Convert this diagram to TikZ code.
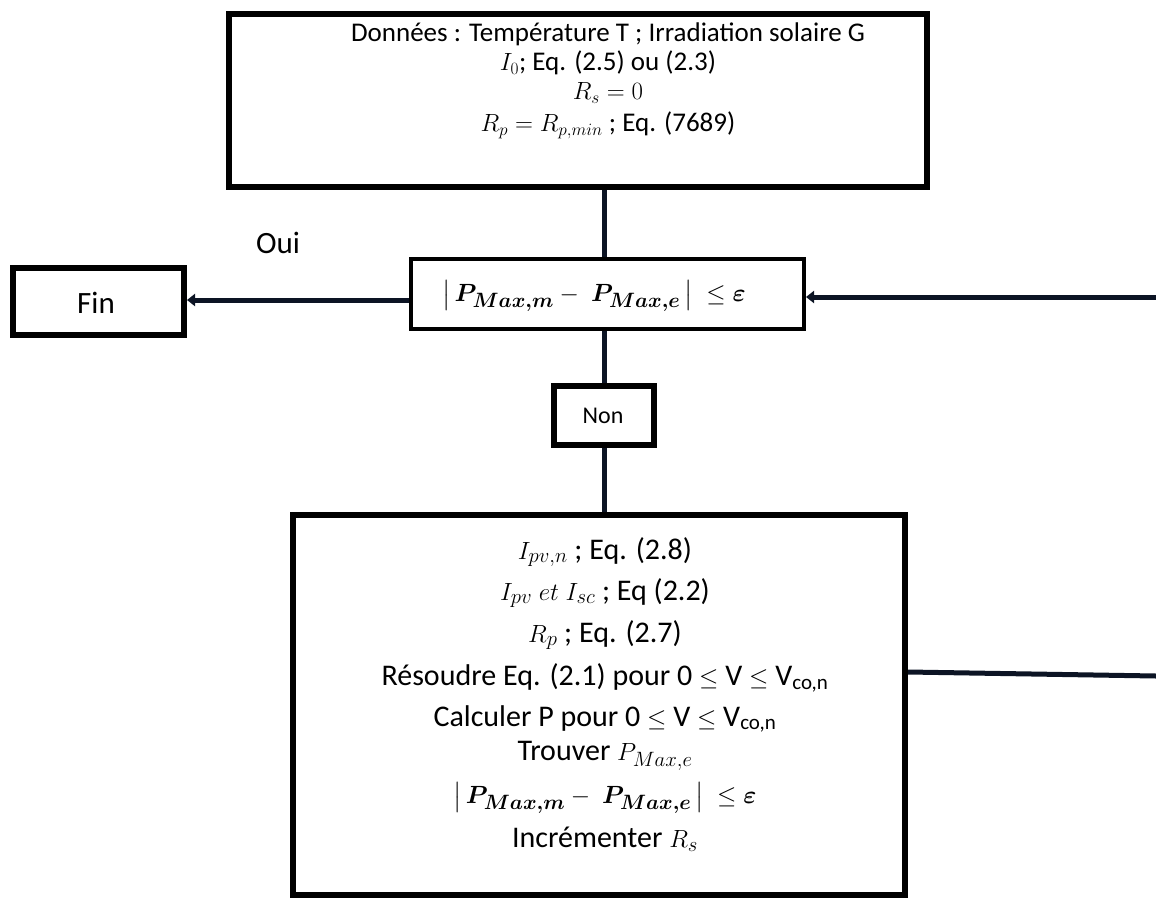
\documentclass[tikz,border=0pt]{standalone}
\usepackage{fontspec}
\setmainfont{Carlito}
\usepackage{amsmath,bm}
\usetikzlibrary{arrows.meta}
\definecolor{ink}{RGB}{12,20,36}
\tikzset{
  frame/.style={draw=black,line width=6pt,inner sep=0pt,fill=white},
  link/.style={draw=ink,line width=5pt},
  arr/.style={link,-{Triangle[length=8pt,width=12pt]}},
  txt/.style={inner sep=0pt,anchor=center},
}
\newcommand{\fs}[1]{\fontsize{#1}{#1}\selectfont}
\newcommand{\crit}{$\bigl|\,\bm{P_{Max,m}} -\ \bm{P_{Max,e}}\,\bigr|\ \leq \bm{\varepsilon}$}
\begin{document}
\begin{tikzpicture}[x=1pt,y=-1pt]
\useasboundingbox (0,0) rectangle (1156,900);

% boxes
\node[frame,minimum width=698pt,minimum height=173pt] (top) at (578,100.5) {};
\node[frame,minimum width=393pt,minimum height=70pt,line width=4pt] (dec) at (607.5,294) {};
\node[frame,minimum width=171pt,minimum height=67pt] (fin) at (98.5,301.5) {};
\node[frame,minimum width=100pt,minimum height=59pt] (non) at (604,415.5) {};
\node[frame,minimum width=612pt,minimum height=380pt] (bot) at (599,705) {};

% texts of the first box
\node[txt,font=\fs{27}] (t1) at (608,34) {Données : Température T ; Irradiation solaire G};
\node[txt,font=\fs{27}] (t2) at (608,63) {$I_0$; Eq. (2.5) ou (2.3)};
\node[txt,font=\fs{27}] (t3) at (608,93) {$R_s = 0$};
\node[txt,font=\fs{27}] (t4) at (608,125) {$R_p = R_{p,min}$ ; Eq. (7689)};

% decision and answers
\node[txt,font=\fs{29}] (dtxt) at (594,296) {\crit};
\node[txt,font=\fs{31}] (fintxt) at (96,303) {Fin};
\node[txt,font=\fs{31}] (oui) at (278,243) {Oui};
\node[txt,font=\fs{24}] (nontxt) at (603,416) {Non};

% texts of the last box
\node[txt,font=\fs{30}] (b1) at (605,552) {$I_{pv,n}$ ; Eq. (2.8)};
\node[txt,font=\fs{30}] (b2) at (605,593) {$I_{pv}\ et\ I_{sc}$ ; Eq (2.2)};
\node[txt,font=\fs{30}] (b3) at (605,635) {$R_p$ ; Eq. (2.7)};
\node[txt,font=\fs{30}] (b4) at (605,678) {Résoudre Eq. (2.1) pour 0 $\leq$ V $\leq$ V\textsubscript{co,n}};
\node[txt,font=\fs{30}] (b5) at (605,719) {Calculer P pour 0 $\leq$ V $\leq$ V\textsubscript{co,n}};
\node[txt,font=\fs{30}] (b6) at (605,756) {Trouver $P_{Max,e}$};
\node[txt,font=\fs{28}] (b7) at (605,798) {\crit};
\node[txt,font=\fs{30}] (b8) at (605,839) {Incrémenter $R_s$};

% free ends on the right border
\coordinate (rin) at (1156,297);
\coordinate (rout) at (1156,676);
\coordinate (bo) at (bot.east |- 0,672);

% connectors
\draw[link] (top.south -| non.north) -- (dec.north -| non.north);
\draw[link] (dec.south -| non.north) -- (non.north);
\draw[link] (non.south) -- (bot.north -| non.south);
\draw[arr] (dec.west |- 0,300) -- (fin.east |- 0,300);
\draw[arr] (rin) -- (dec.east |- rin);
\draw[link] (bo) -- (rout);
\end{tikzpicture}
\end{document}
